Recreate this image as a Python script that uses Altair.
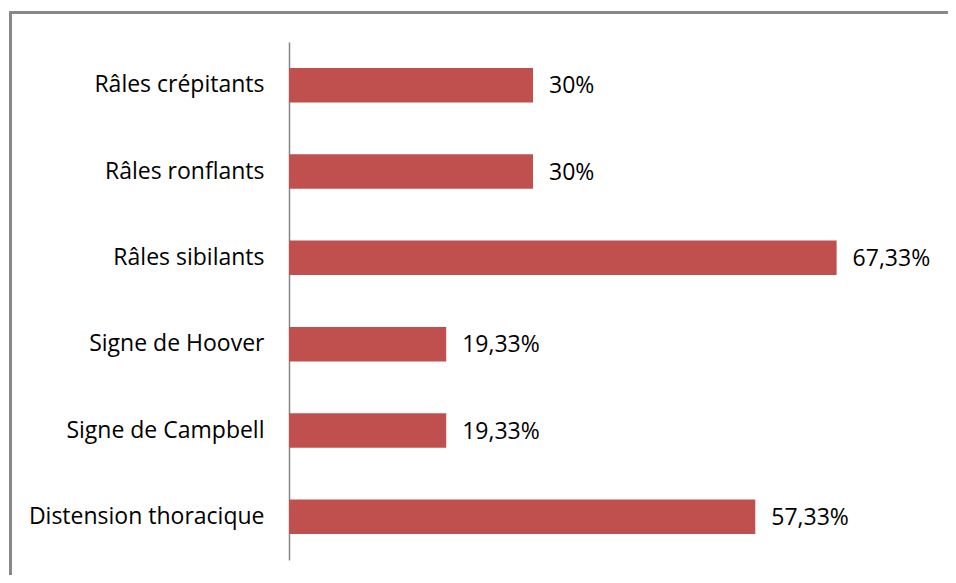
import altair as alt
import pandas as pd

categories = ["Râles crépitants", "Râles ronflants", "Râles sibilants",
              "Signe de Hoover", "Signe de Campbell", "Distension thoracique"]
values = [30, 30, 67.33, 19.33, 19.33, 57.33]
labels = ["30%", "30%", "67,33%", "19,33%", "19,33%", "57,33%"]

df = pd.DataFrame({"cat": categories, "val": values, "lab": labels})

W = 610
H = 518
FONT = "Open Sans"

y_enc = alt.Y("cat:N", sort=categories, title=None,
              scale=alt.Scale(paddingInner=0.6, paddingOuter=0.3),
              axis=alt.Axis(domain=True, domainColor="#868686", domainWidth=1.5,
                            ticks=False, labelPadding=25, labelFontSize=23,
                            labelFont=FONT, labelColor="#000000", labelLimit=400))
x_enc = alt.X("val:Q", title=None, scale=alt.Scale(domain=[0, 75], nice=False),
              axis=None)

frame = alt.Chart(df).mark_rect(fill="transparent", stroke="#878787", strokeWidth=2).encode(
    x=alt.value(-278.5), x2=alt.value(W + 200), y=alt.value(-29.5), y2=alt.value(H + 200)
)

bars = alt.Chart(df).mark_bar(color="#C0504D").encode(y=y_enc, x=x_enc)

text = alt.Chart(df).mark_text(align="left", baseline="middle", dx=16, dy=1,
                               font=FONT, fontSize=23, color="#000000").encode(
    y=alt.Y("cat:N", sort=categories), x="val:Q", text="lab:N")

chart = alt.layer(frame, bars, text).properties(
    width=W, height=H,
    background="white",
    autosize=alt.AutoSizeParams(type="none"),
    padding={"left": 281, "top": 34, "right": 49, "bottom": 15},
).configure_view(stroke=None, strokeWidth=0)

chart.save("out.html", embed_options={"renderer": "svg", "actions": False})
